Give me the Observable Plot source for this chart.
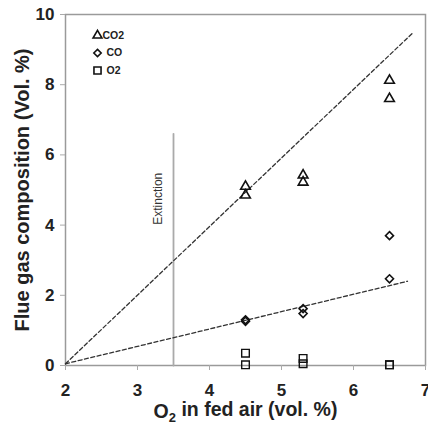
<!DOCTYPE html>
<html>
<head>
<meta charset="utf-8">
<script src="https://cdn.jsdelivr.net/npm/d3@7"></script>
<script src="https://cdn.jsdelivr.net/npm/@observablehq/plot@0.6"></script>
<style>
  html, body { margin: 0; padding: 0; background: #fff; }
  svg { font-family: "Liberation Sans", Arial, sans-serif; }
</style>
</head>
<body>
<div id="chart"></div>
<script>
// ---- data ----
const xTicks = [2, 3, 4, 5, 6, 7];
const yTicks = [0, 2, 4, 6, 8, 10];
const co2X = [4.5, 4.5, 5.3, 5.3, 6.5, 6.5];
const co2Y = [5.1, 4.85, 5.42, 5.22, 8.12, 7.6];
const coX = [4.5, 4.5, 5.3, 5.3, 6.5, 6.5];
const coY = [1.3, 1.26, 1.62, 1.48, 3.7, 2.47];
const o2X = [4.5, 4.5, 5.3, 5.3, 6.5, 6.5];
const o2Y = [0.35, 0.02, 0.2, 0.05, 0.02, 0.02];
const co2FitX = [2, 6.82];
const co2FitY = [0.05, 9.47];
const coFitX = [2, 6.75];
const coFitY = [0.05, 2.4];
const extinctionX = [3.5, 3.5];
const extinctionY = [0, 6.6];
const extinctionLabel = "Extinction";
const extinctionLabelY = 4.75;
const legendLabels = ["CO2", "CO", "O2"];
const legendSymbols = ["triangle", "diamond2", "square"];
const xLabel = "O2 in fed air (vol. %)";
const yLabel = "Flue gas composition (Vol. %)";

const toPts = (xs, ys) => xs.map((x, i) => ({x, y: ys[i]}));

const legendMarks = legendLabels.flatMap((lab, i) => [
  Plot.dot([lab], {frameAnchor: "top-left", dx: 32, dy: 21 + i * 17.5,
    symbol: legendSymbols[i], r: i === 2 ? 4 : 3.3, stroke: "#111", strokeWidth: 1.6, fill: "none"}),
  Plot.text([lab], {frameAnchor: "top-left", dx: i === 0 ? 37 : 41, dy: 21 + i * 17.5,
    text: d => d, textAnchor: "start", lineAnchor: "middle", fontSize: 10.5, fontWeight: "bold", fill: "#222"})
]);

const chart = Plot.plot({
  width: 428,
  height: 425,
  marginLeft: 65,
  marginRight: 3,
  marginTop: 14,
  marginBottom: 60,
  style: {fontFamily: "'Liberation Sans', Arial, sans-serif", background: "#fff", fontSize: "17px"},
  x: {domain: [2, 7], ticks: xTicks, tickFormat: d => String(d), label: null},
  y: {domain: [0, 10], ticks: yTicks, tickFormat: d => String(d), label: null},
  marks: [
    Plot.frame({stroke: "#9a9a9a", strokeWidth: 1.5}),
    Plot.axisX({ticks: xTicks, tickFormat: d => String(d), tickSize: 5, tickPadding: 13, stroke: "#aaa", fill: "#222", label: null}),
    Plot.axisY({ticks: yTicks, tickFormat: d => String(d), tickSize: 5, tickPadding: 6, stroke: "#aaa", fill: "#222", label: null}),
    Plot.line(toPts(extinctionX, extinctionY), {x: "x", y: "y", stroke: "#aaa", strokeWidth: 1.8}),
    Plot.text([extinctionLabel], {x: 3.5, y: extinctionLabelY, dx: -15, text: d => d, rotate: -90, fontSize: 12, fontWeight: "normal", fill: "#333"}),
    Plot.line(toPts(co2FitX, co2FitY), {x: "x", y: "y", stroke: "#333", strokeWidth: 1.3, strokeDasharray: "4,2.5"}),
    Plot.line(toPts(coFitX, coFitY), {x: "x", y: "y", stroke: "#333", strokeWidth: 1.3, strokeDasharray: "4,2.5"}),
    Plot.dot(toPts(co2X, co2Y), {x: "x", y: "y", symbol: "triangle", r: 3.6, stroke: "#111", strokeWidth: 1.6, fill: "none"}),
    Plot.dot(toPts(coX, coY), {x: "x", y: "y", symbol: "diamond2", r: 3.6, stroke: "#111", strokeWidth: 1.6, fill: "none"}),
    Plot.dot(toPts(o2X, o2Y), {x: "x", y: "y", symbol: "square", r: 4.3, stroke: "#111", strokeWidth: 1.4, fill: "none"}),
    ...legendMarks,
    Plot.text([xLabel], {frameAnchor: "bottom", lineAnchor: "middle", dy: 46, text: d => d, fontSize: 19.5, fontWeight: "bold", fill: "#222"}),
    Plot.text([yLabel], {frameAnchor: "left", dx: -43, text: d => d, textAnchor: "middle", rotate: -90, fontSize: 20, fontWeight: "bold", fill: "#222"})
  ]
});

// bold tick labels
d3.select(chart).selectAll('g[aria-label$="tick label"]')
  .attr("font-weight", "bold").attr("font-size", 17);

// subscript in x label
d3.select(chart).selectAll("text").each(function () {
  if (this.textContent === xLabel) {
    const t = d3.select(this);
    t.text("");
    t.append("tspan").text("O");
    t.append("tspan").attr("dy", "0.3em").attr("font-size", "13").text("2");
    t.append("tspan").attr("dy", "-0.3em").text(" in fed air (vol. %)");
  }
});

document.getElementById("chart").appendChild(chart);
</script>
</body>
</html>
